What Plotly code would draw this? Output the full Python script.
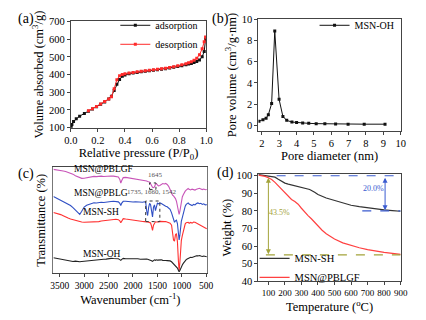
import plotly.graph_objects as go

# ---------------- (a) N2 isotherm ----------------
P_ads = [0.003, 0.008, 0.02, 0.04, 0.065, 0.1, 0.13, 0.16, 0.19, 0.22, 0.25, 0.28, 0.30, 0.32, 0.34,
         0.36, 0.38, 0.40, 0.43, 0.46, 0.49, 0.52, 0.55, 0.58, 0.61, 0.64, 0.67, 0.70, 0.73, 0.76,
         0.79, 0.82, 0.85, 0.87, 0.89, 0.91, 0.93, 0.95, 0.97, 0.985, 0.995]
V_ads = [103, 118, 135, 150, 165, 180, 192, 205, 218, 232, 245, 262, 278, 310, 345,
         372, 390, 398, 404, 408, 412, 415, 418, 421, 424, 427, 430, 433, 437, 441,
         445, 450, 455, 459, 463, 468, 474, 482, 500, 530, 600]
P_des = [0.13, 0.16, 0.19, 0.22, 0.25, 0.28, 0.30, 0.32, 0.34, 0.36, 0.38, 0.40, 0.43, 0.46, 0.49,
         0.52, 0.55, 0.58, 0.61, 0.64, 0.67, 0.70, 0.73, 0.76, 0.79, 0.82, 0.85, 0.87, 0.89, 0.91,
         0.93, 0.95, 0.97, 0.985, 0.995]
V_des = [195, 207, 220, 234, 247, 262, 275, 320, 370, 393, 400, 404, 408, 412, 415,
         418, 421, 424, 427, 430, 433, 436, 440, 444, 449, 455, 461, 466, 472, 480,
         492, 512, 545, 585, 612]

# ---------------- (b) pore size distribution ----------------
D_pore = [1.83, 2.06, 2.24, 2.37, 2.56, 2.74, 2.99, 3.21, 3.43, 3.73, 4.0, 4.35, 4.7, 5.13, 5.63,
          6.25, 6.97, 7.9, 9.1]
V_pore = [0.37, 0.52, 0.67, 0.98, 2.05, 8.9, 2.45, 0.83, 0.46, 0.3, 0.25, 0.2, 0.18, 0.15, 0.13,
          0.12, 0.1, 0.1, 0.1]

# ---------------- (c) FTIR ----------------
WN = [3630, 3580, 3530, 3480, 3430, 3380, 3330, 3280, 3230, 3180,
      3130, 3090, 3050, 3000, 2950, 2900, 2850, 2800, 2750, 2700,
      2650, 2600, 2550, 2500, 2450, 2400, 2350, 2300, 2270, 2250,
      2230, 2200, 2150, 2100, 2050, 2000, 1950, 1900, 1850, 1800,
      1770, 1740, 1720, 1700, 1680, 1660, 1640, 1620, 1600, 1580,
      1560, 1540, 1520, 1500, 1480, 1450, 1420, 1390, 1360, 1330,
      1300, 1270, 1240, 1210, 1190, 1170, 1150, 1130, 1110, 1090,
      1070, 1055, 1040, 1025, 1010, 990, 970, 950, 930, 910,
      890, 870, 850, 820, 790, 760, 730, 700, 670, 640,
      610, 580, 550, 520, 490]
T_PBLGF = [98.0, 97.8, 97.2, 96.8, 96.5, 96.0, 95.2, 94.5, 93.5, 92.0,
           90.8, 90.0, 89.5, 89.6, 90.2, 90.8, 91.0, 91.4, 91.2, 91.5,
           91.6, 91.3, 91.7, 91.5, 91.8, 91.6, 91.4, 90.8, 88.5, 85.0,
           87.5, 90.2, 90.4, 90.0, 89.6, 89.4, 89.0, 88.8, 88.6, 88.2,
           87.9, 87.5, 87.0, 86.6, 86.3, 86.0, 84.5, 82.5, 81.2, 80.8,
           81.5, 84.0, 84.5, 83.5, 82.5, 82.8, 84.0, 84.6, 84.2, 84.7,
           83.8, 82.0, 79.0, 75.5, 73.8, 73.0, 72.0, 70.5, 68.0, 63.5,
           57.5, 55.5, 58.5, 63.0, 68.0, 72.0, 74.0, 76.5, 77.5, 78.5,
           79.5, 80.0, 79.2, 78.6, 79.4, 78.8, 78.5, 79.2, 79.8, 80.2,
           79.6, 79.0, 79.5, 78.8, 79.0]
T_PBLG = [72.4, 71.2, 70.2, 69.4, 68.2, 66.8, 65.5, 64.0, 62.0, 60.0,
          57.2, 55.7, 58.5, 62.5, 64.2, 65.2, 66.0, 66.5, 66.3, 66.8,
          67.0, 66.8, 67.3, 67.5, 67.7, 67.9, 67.8, 67.4, 66.0, 64.0,
          66.2, 67.9, 68.0, 67.6, 67.4, 67.3, 67.5, 67.2, 67.0, 67.1,
          67.5, 67.0, 59.0, 54.5, 62.0, 66.0, 64.8, 58.0, 53.2, 62.5,
          64.5, 59.2, 62.0, 66.2, 65.5, 66.4, 65.8, 64.8, 64.0, 63.3,
          62.8, 61.8, 60.3, 57.0, 53.5, 51.0, 48.2, 49.5, 50.2, 47.0,
          38.5, 31.5, 36.0, 44.5, 49.0, 52.5, 57.0, 61.0, 63.3, 65.0,
          66.2, 66.4, 65.4, 64.2, 63.9, 65.0, 64.5, 65.8, 66.4, 65.6,
          66.0, 65.0, 65.6, 64.6, 64.8]
T_SH = [57.3, 56.9, 56.2, 55.4, 54.3, 53.0, 52.2, 51.3, 50.6, 49.9,
        49.3, 48.8, 48.5, 48.2, 48.3, 48.0, 48.5, 48.4, 48.8, 48.8,
        49.3, 49.6, 50.0, 50.5, 51.0, 51.2, 51.0, 50.6, 49.5, 47.8,
        49.6, 51.6, 51.2, 50.8, 50.4, 49.9, 49.6, 49.4, 49.0, 48.9,
        48.8, 48.9, 48.6, 48.5, 48.3, 48.2, 47.5, 44.5, 40.6, 45.5,
        48.0, 48.6, 48.4, 48.8, 48.5, 49.0, 48.7, 49.1, 48.8, 48.8,
        48.3, 47.8, 47.3, 45.5, 40.0, 31.5, 30.5, 36.5, 37.6, 30.0,
        12.0, 2.7, 10.0, 22.0, 31.0, 35.5, 40.0, 44.0, 46.7, 47.8,
        48.4, 48.2, 47.2, 48.0, 47.4, 48.4, 48.2, 47.5, 46.8, 46.0,
        45.2, 44.5, 43.8, 43.0, 42.1]
T_OH = [14.8, 14.3, 13.9, 13.4, 12.8, 12.2, 11.9, 11.7, 11.3, 11.6,
        11.2, 11.0, 11.3, 11.6, 11.9, 12.2, 12.0, 12.5, 12.4, 12.9,
        13.0, 13.4, 13.5, 13.9, 14.2, 14.0, 14.1, 13.8, 13.0, 12.3,
        13.2, 14.2, 13.8, 13.9, 13.5, 13.9, 13.6, 13.8, 13.4, 13.6,
        13.4, 13.2, 13.5, 13.3, 13.0, 13.3, 12.9, 12.0, 11.4, 12.2,
        12.8, 12.4, 12.9, 12.5, 12.7, 12.4, 12.8, 12.3, 12.5, 12.2,
        12.1, 12.3, 11.8, 11.0, 10.0, 9.1, 8.8, 7.5, 6.1, 5.0,
        3.0, 1.5, 2.8, 5.0, 7.0, 8.0, 9.5, 11.0, 12.1, 13.0,
        13.6, 14.2, 14.8, 15.2, 15.0, 15.6, 16.2, 16.7, 16.5, 16.9,
        16.4, 16.0, 16.4, 15.8, 15.8]
FTIR_TICKS = [3500, 3000, 2500, 2000, 1500, 1000, 500]

# ---------------- (d) TGA ----------------
T_sh = [40, 60, 80, 100, 120, 140, 160, 180, 200, 220, 250, 280, 300, 320, 350, 380, 400,
        450, 500, 550, 600, 650, 700, 750, 800, 850, 900]
W_sh = [100.6, 100.3, 100.1, 99.9, 99.6, 99.2, 98.0, 96.8, 95.8, 95.2, 94.6, 93.9, 93.6, 93.1, 92.2,
        90.6, 89.3, 87.3, 85.8, 84.3, 83.2, 82.4, 81.7, 81.1, 80.6, 80.2, 79.8]
T_gf = [40, 60, 80, 100, 120, 140, 160, 180, 200, 220, 240, 260, 280, 300, 320, 340, 360, 380,
        400, 425, 450, 475, 500, 550, 600, 650, 700, 750, 800, 850, 900]
W_gf = [100.3, 100.0, 99.6, 98.9, 97.8, 96.2, 94.2, 92.0, 90.0, 88.0, 86.5, 85.3, 83.8, 81.5, 79.2,
        77.3, 75.5, 73.4, 71.3, 69.0, 67.0, 65.4, 64.0, 61.8, 60.3, 59.0, 58.0, 57.1, 56.4, 55.8, 55.3]
TGA_TICKS = [100, 200, 300, 400, 500, 600, 700, 800, 900]
W_START, W_SH_END, W_GF_END = 100, 80, 55
LOSS_SH, LOSS_GF = "20.0%", "43.5%"

SERIF = "Liberation Serif, Times New Roman, serif"
FRAME = "#444444"
fig = go.Figure()

# (a)
fig.add_trace(go.Scatter(x=P_ads, y=V_ads, mode="lines+markers", name="adsorption",
                         line=dict(color="#111111", width=1), marker=dict(symbol="square", size=3, color="#111111"),
                         xaxis="x", yaxis="y", legend="legend"))
fig.add_trace(go.Scatter(x=P_des, y=V_des, mode="lines+markers", name="desorption",
                         line=dict(color="#ff2a2a", width=1), marker=dict(symbol="square", size=3, color="#ff2a2a"),
                         xaxis="x", yaxis="y", legend="legend"))
# (b)
fig.add_trace(go.Scatter(x=D_pore, y=V_pore, mode="lines+markers", name="MSN-OH",
                         line=dict(color="#111111", width=1), marker=dict(symbol="square", size=3, color="#111111"),
                         xaxis="x2", yaxis="y2", legend="legend2"))
# (c)
ftir = [(T_PBLGF, "#c855b8"), (T_PBLG, "#2f4fc4"), (T_SH, "#ff3030"), (T_OH, "#222222")]
for ys, col in ftir:
    fig.add_trace(go.Scatter(x=WN, y=ys, mode="lines", line=dict(color=col, width=1.1),
                             xaxis="x3", yaxis="y3", showlegend=False))
# (d)
fig.add_trace(go.Scatter(x=T_sh, y=W_sh, mode="lines", name="MSN-SH", line=dict(color="#333333", width=1.2),
                         xaxis="x4", yaxis="y4", legend="legend3"))
fig.add_trace(go.Scatter(x=T_gf, y=W_gf, mode="lines", name="MSN@PBLGF", line=dict(color="#ff4040", width=1.2),
                         xaxis="x4", yaxis="y4", legend="legend3"))

W, H = 426, 320
def dx(a, b):
    return [a / W, b / W]
def dy(top, bottom):
    return [1 - bottom / H, 1 - top / H]

def tf(size):
    return dict(family=SERIF, size=size, color="black")

ax_common = dict(showline=True, mirror=True, linecolor=FRAME, linewidth=1, ticks="outside", ticklen=3,
                 tickcolor=FRAME, showgrid=False, zeroline=False, tickangle=0, tickfont=tf(10.5))
tfont = tf(12.5)

fig.update_layout(
    width=W, height=H, margin=dict(l=0, r=0, t=0, b=0),
    paper_bgcolor="white", plot_bgcolor="white",
    font=dict(family=SERIF, color="black"),
    xaxis=dict(ax_common, domain=dx(66, 206), anchor="y", range=[0, 1.0], dtick=0.2, tickformat=".1f",
               title=dict(text="Relative pressure (P/P<sub>0</sub>)", font=tfont, standoff=2)),
    yaxis=dict(ax_common, domain=dy(17, 127), anchor="x", range=[100, 700], dtick=100,
               title=dict(text="Volume absorbed (cm<sup>3</sup>/g)", font=tfont, standoff=2)),
    xaxis2=dict(ax_common, domain=dx(260, 407), anchor="y2", range=[1.8, 10], dtick=1, tick0=2,
                title=dict(text="Pore diameter (nm)", font=tfont, standoff=2)),
    yaxis2=dict(ax_common, domain=dy(15, 130), anchor="x2", range=[-0.5, 10], dtick=2,
                title=dict(text="Pore volume (cm<sup>3</sup>/g·nm)", font=tfont, standoff=2)),
    xaxis3=dict(ax_common, domain=dx(48, 207), anchor="y3", range=[3630, 480], tickvals=FTIR_TICKS,
                tickfont=tf(9.5),
                title=dict(text="Wavenumber (cm<sup>-1</sup>)", font=tfont, standoff=2)),
    yaxis3=dict(ax_common, domain=dy(168, 278), anchor="x3", range=[0, 100], showticklabels=False, ticks="",
                linecolor="#777777",
                title=dict(text="Transmittance (%)", font=tfont, standoff=4)),
    xaxis4=dict(ax_common, domain=dx(260, 407), anchor="y4", range=[40, 900], tickvals=TGA_TICKS,
                tickfont=tf(9),
                title=dict(text="Temperature (<sup>o</sup>C)", font=tfont, standoff=2)),
    yaxis4=dict(ax_common, domain=dy(175, 286), anchor="x4", range=[40, 101], dtick=10,
                title=dict(text="Weight (%)", font=tfont, standoff=2)),
    legend=dict(x=112 / W, y=1 - 6 / H, xanchor="left", yanchor="top", bgcolor="rgba(0,0,0,0)",
                font=tf(10), itemwidth=30, tracegroupgap=0),
    legend2=dict(x=318 / W, y=1 - 6 / H, xanchor="left", yanchor="top", bgcolor="rgba(0,0,0,0)",
                 font=tf(10), itemwidth=30),
    legend3=dict(x=256 / W, y=1 - 297 / H, xanchor="left", yanchor="bottom", bgcolor="rgba(0,0,0,0)",
                 font=tf(10.5), itemwidth=30, tracegroupgap=0),
)

ann = []
for txt, px, py in [("(a)", 20, 15), ("(b)", 221, 15), ("(c)", 20, 175), ("(d)", 226, 174)]:
    ann.append(dict(text=txt, x=px / W, y=1 - py / H, xref="paper", yref="paper", showarrow=False,
                    font=tf(14), xanchor="center", yanchor="middle"))
# FTIR labels
for txt, wx, vy in [("MSN@PBLGF", 2607, 98.2), ("MSN@PBLG", 2657, 76.1), ("MSN-SH", 2647, 58.2),
                    ("MSN-OH", 2637, 18.5)]:
    ann.append(dict(text=txt, x=wx, y=vy, xref="x3", yref="y3", showarrow=False, font=tf(9.5)))
ann.append(dict(text="1645", x=1536, y=92.5, xref="x3", yref="y3", showarrow=False,
                font=dict(family=SERIF, size=7, color="#555555")))
ann.append(dict(text="1735, 1660, 1542", x=1610, y=76.5, xref="x3", yref="y3", showarrow=False,
                font=dict(family=SERIF, size=7, color="#555555")))
# TGA annotations
ann.append(dict(x=806, y=W_SH_END + 0.3, ax=806, ay=W_START - 0.3, xref="x4", yref="y4", axref="x4", ayref="y4",
                text="", showarrow=True, arrowhead=2, arrowside="end+start", arrowsize=1, arrowwidth=1,
                arrowcolor="#3a5bd0"))
ann.append(dict(x=100, y=W_GF_END + 0.3, ax=100, ay=W_START - 0.3, xref="x4", yref="y4", axref="x4", ayref="y4",
                text="", showarrow=True, arrowhead=2, arrowside="end+start", arrowsize=1, arrowwidth=1,
                arrowcolor="#a3a33a"))
ann.append(dict(text=LOSS_SH, x=735, y=92.8, xref="x4", yref="y4", showarrow=False,
                font=dict(family=SERIF, size=8, color="#3a5bd0")))
ann.append(dict(text=LOSS_GF, x=168, y=79, xref="x4", yref="y4", showarrow=False,
                font=dict(family=SERIF, size=8, color="#a3a33a")))
fig.update_layout(annotations=ann)

shapes = [
    dict(type="rect", x0=1740, x1=1450, y0=48.8, y1=68.2, xref="x3", yref="y3",
         line=dict(color="#333333", width=1, dash="dot")),
    dict(type="rect", x0=1661, x1=1530, y0=79.1, y1=85.2, xref="x3", yref="y3",
         line=dict(color="#333333", width=1, dash="dot")),
    dict(type="line", x0=150, x1=900, y0=W_START, y1=W_START, xref="x4", yref="y4",
         line=dict(color="#3a5bd0", width=1.2, dash="dash")),
    dict(type="line", x0=668, x1=900, y0=W_SH_END, y1=W_SH_END, xref="x4", yref="y4",
         line=dict(color="#3a5bd0", width=1.2, dash="dash")),
    dict(type="line", x0=85, x1=900, y0=W_GF_END, y1=W_GF_END, xref="x4", yref="y4",
         line=dict(color="#a3a33a", width=1.2, dash="dash")),
]
fig.update_layout(shapes=shapes)

fig.write_html("out.html", config={"displayModeBar": False},
               post_script="document.body.style.margin='0';document.body.style.overflow='hidden';")
